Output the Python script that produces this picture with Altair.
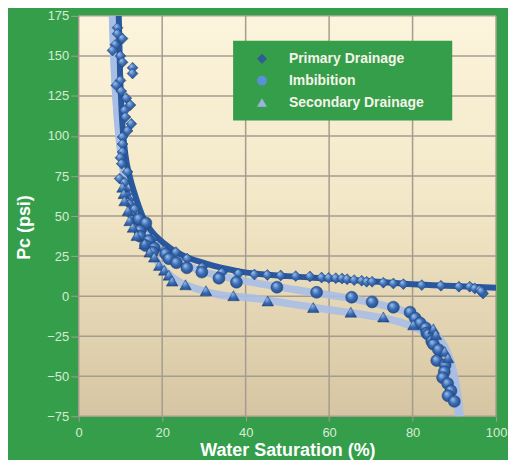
import altair as alt
import pandas as pd

SERIES = ["Primary Drainage", "Imbibition", "Secondary Drainage"]

# Primary drainage (diamonds)
pd_x = [9.3, 9.3, 10.5, 8.8, 8.1, 10.0, 10.5, 12.9, 12.9, 10.0, 9.0, 10.2, 11.4, 12.4, 11.0,
        11.2, 12.6, 11.7, 10.5, 10.5, 10.5, 10.0, 10.3, 11.7, 9.8, 11.0, 11.2, 11.4, 12.0,
        12.2, 13.4, 12.8, 14.0, 15.5, 17.7, 20.5, 23.3, 26.0, 29.6, 34.3, 38.3, 42.1, 45.2,
        48.4, 52.0, 55.4, 58.2, 59.9, 61.6, 63.1, 64.3, 66.0, 67.8, 69.0, 70.3, 73.0, 75.4,
        77.8, 82.2, 86.8, 91.1, 93.7, 94.9, 96.1, 96.9, 96.5]
pd_y = [167.6, 163.8, 160.8, 157.0, 153.4, 150.0, 146.0, 142.6, 139.0, 134.7, 131.6, 128.0,
        123.6, 119.3, 116.0, 111.8, 107.6, 103.2, 99.4, 95.0, 90.0, 86.4, 82.7, 77.6, 73.4,
        70.9, 66.0, 63.6, 60.0, 57.4, 54.3, 50.0, 47.0, 42.0, 35.8, 28.5, 27.5, 23.4, 18.0,
        14.7, 14.1, 13.5, 13.2, 12.9, 12.5, 12.3, 11.6, 11.4, 11.2, 11.0, 10.6, 10.0, 9.6,
        9.0, 9.0, 8.4, 7.9, 7.5, 6.9, 6.5, 5.9, 5.9, 4.8, 3.8, 1.7, 3.0]

# Imbibition (circles)
im_x = [14.4, 16.1, 14.6, 14.7, 16.8, 16.0, 18.1, 17.7, 20.8, 21.6, 23.4, 25.9, 29.5, 33.6,
        37.8, 47.5, 57.0, 65.4, 70.3, 75.4, 79.4, 80.6, 81.8, 83.1, 83.4, 83.8, 84.6, 85.0,
        86.2, 85.8, 87.8, 87.6, 87.2, 88.4, 89.2, 88.5, 90.0]
im_y = [48.1, 45.7, 40.9, 37.4, 34.7, 31.6, 30.0, 27.5, 26.5, 23.4, 20.9, 17.7, 15.0, 11.2,
        8.7, 5.6, 2.4, -0.7, -3.6, -6.9, -10.0, -13.7, -16.8, -19.9, -23.0, -24.0, -28.2,
        -30.0, -33.4, -40.2, -43.0, -47.2, -50.9, -54.6, -59.1, -62.2, -65.7]

# Secondary drainage (triangles)
sd_x = [10.5, 10.8, 11.0, 11.8, 12.2, 13.0, 13.9, 15.8, 17.0, 18.1, 19.3, 20.5, 21.6, 22.4,
        25.6, 30.5, 37.1, 45.3, 56.2, 65.2, 73.0, 80.2, 85.0, 85.6, 87.7, 88.5]
sd_y = [68.0, 64.0, 59.5, 53.3, 47.1, 43.0, 37.8, 32.7, 27.5, 24.4, 19.2, 16.2, 13.1, 9.4,
        7.1, 3.4, 0.3, -3.0, -7.1, -10.0, -13.0, -17.9, -20.4, -24.0, -34.6, -38.5]

# Fitted trend curves
cpd_x = [9.6, 9.9, 10.4, 11.2, 12.3, 13.4, 15.3, 17.3, 20.1, 24.1, 30.5, 38.4, 50.0, 60.0,
         70.0, 80.0, 90.0, 100.0]
cpd_y = [175, 140, 110, 88, 74, 64, 50, 41, 33.7, 26.5, 20.3, 15.5, 12.5, 11.0, 9.3, 7.4,
         6.3, 5.3]
cim_x = [8.1, 8.5, 9.2, 10.2, 11.5, 13.0, 15.0, 18.0, 22.0, 28.0, 38.0, 45.0, 52.0, 60.0,
         67.0, 72.5, 77.0, 80.5, 83.5, 86.0, 87.8, 89.3, 90.3, 91.0, 91.4]
cim_y = [175, 145, 115, 90, 70, 57, 45, 34, 25, 17, 10.5, 7, 4, 0.7, -2.3, -5.5, -8.5,
         -12.5, -18.5, -25, -32, -42, -53, -65, -75]
csd_x = [8.1, 8.6, 9.3, 10.3, 11.5, 13.0, 15.0, 17.0, 19.0, 21.0, 24.0, 28.0, 34.0, 41.0,
         50.0, 60.0, 67.0, 72.5, 77.0, 80.5, 83.5, 86.0, 87.8, 89.3, 90.3, 91.0]
csd_y = [175, 140, 110, 85, 67, 52, 39, 29, 21, 15, 9, 4.8, 0.7, -1.0, -4.5, -8.5, -11.0,
         -13.5, -16.2, -19.5, -23.5, -29, -37, -47, -59, -75]

x_ticks = [0, 20, 40, 60, 80, 100]
y_ticks = [-75, -50, -25, 0, 25, 50, 75, 100, 125, 150, 175]

GREEN = "#349E4A"
GRID = "#A59C90"
LABEL = "#D8ECD4"
FONT = "Liberation Sans"
W, H = 419, 402

pts = pd.DataFrame({
    "x": pd_x + im_x + sd_x,
    "y": pd_y + im_y + sd_y,
    "series": [SERIES[0]] * len(pd_x) + [SERIES[1]] * len(im_x) + [SERIES[2]] * len(sd_x),
})
light_curves = pd.DataFrame({
    "x": cim_x + csd_x,
    "y": cim_y + csd_y,
    "curve": ["im"] * len(cim_x) + ["sd"] * len(csd_x),
})
dark_curve = pd.DataFrame({"x": cpd_x, "y": cpd_y})

xscale = alt.Scale(domain=[0, 100], nice=False, zero=False)
yscale = alt.Scale(domain=[-75, 175], nice=False, zero=False)
xaxis = alt.Axis(values=x_ticks, title="Water Saturation (%)", grid=False, domain=False,
                 tickSize=5, tickColor=GRID, labelPadding=5, titlePadding=2,
                 labelFlush=False)
yaxis = alt.Axis(values=y_ticks, title="Pc (psi)", grid=False, domain=False,
                 tickSize=8, tickColor=GRID, labelPadding=2, labelFlush=False,
                 titleX=-54, titleY=212, titleBaseline="middle")


def X():
    return alt.X("x:Q", scale=xscale, axis=xaxis)


def Y():
    return alt.Y("y:Q", scale=yscale, axis=yaxis)


bg_fill = {"gradient": "linear", "x1": 0, "y1": 0, "x2": 0, "y2": 1,
           "stops": [{"offset": 0, "color": "#FCF4DC"},
                     {"offset": 0.45, "color": "#F3E8C8"},
                     {"offset": 1, "color": "#D6C5A2"}]}
bg = alt.Chart(alt.Data(values=[{}])).mark_rect(fill=bg_fill).encode(
    x=alt.value(0), x2=alt.value(W), y=alt.value(0), y2=alt.value(H))

vgrid = alt.Chart(pd.DataFrame({"x": x_ticks})).mark_rule(
    color=GRID, strokeWidth=1.5).encode(x=X())
hgrid = alt.Chart(pd.DataFrame({"y": y_ticks})).mark_rule(
    color=GRID, strokeWidth=1.5).encode(y=Y())

light = alt.Chart(light_curves).mark_line(
    color="#A9BEE6", strokeWidth=7.5, interpolate="monotone", clip=True, opacity=0.9
).encode(x=X(), y=Y(), detail="curve:N")
dark = alt.Chart(dark_curve).mark_line(
    color="#2A589E", strokeWidth=6, interpolate="monotone", clip=True
).encode(x=X(), y=Y())

pt_fill = {"gradient": "radial", "x1": 0.35, "y1": 0.3, "r1": 0,
           "x2": 0.5, "y2": 0.5, "r2": 0.6,
           "stops": [{"offset": 0, "color": "#A6C6F0"},
                     {"offset": 0.5, "color": "#3A6CB4"},
                     {"offset": 1, "color": "#1F4784"}]}

SHAPES = ["diamond", "circle", "triangle-up"]
SIZES = [120, 145, 135]
point_layers = []
for name, shp, sz in zip(SERIES, SHAPES, SIZES):
    point_layers.append(
        alt.Chart(pts).transform_filter(alt.datum.series == name).mark_point(
            filled=True, fill=pt_fill, stroke="#1E4276", strokeWidth=0.5, opacity=1,
            shape=shp, size=sz
        ).encode(x=X(), y=Y())
    )

leg = alt.Legend(title=" ", titleOrient="right", titlePadding=18, titleFontSize=4,
                 titleColor=GREEN, orient="none", legendX=155, legendY=25,
                 fillColor=GREEN, padding=11, rowPadding=8, symbolOffset=11,
                 labelOffset=20, symbolSize=100, symbolOpacity=1,
                 symbolStrokeColor="#23467D", symbolStrokeWidth=1,
                 labelFont=FONT, labelFontSize=14, labelFontWeight="bold",
                 labelColor="#F4F4E8")
legend_layer = alt.Chart(pts).mark_point(
    filled=True, size=0, stroke="#23467D"
).encode(
    x=X(), y=Y(),
    shape=alt.Shape("series:N", scale=alt.Scale(domain=SERIES, range=SHAPES), legend=leg),
    fill=alt.Fill("series:N", scale=alt.Scale(domain=SERIES,
                                              range=["#2F5C96", "#5B8FD6", "#9BB3DE"]),
                  legend=leg),
)

chart = alt.layer(bg, vgrid, hgrid, light, dark, *point_layers, legend_layer).properties(
    width=W, height=H, background=GREEN,
    padding={"left": 71, "top": 7, "right": 12, "bottom": 43},
    autosize=alt.AutoSizeParams(type="none"),
).configure_view(stroke=None).configure_axis(
    labelFont=FONT, labelFontSize=13, labelColor=LABEL,
    titleFont=FONT, titleFontSize=18, titleFontWeight="bold", titleColor="white",
)

chart.save("out.html", embed_options={"renderer": "svg", "actions": False})
